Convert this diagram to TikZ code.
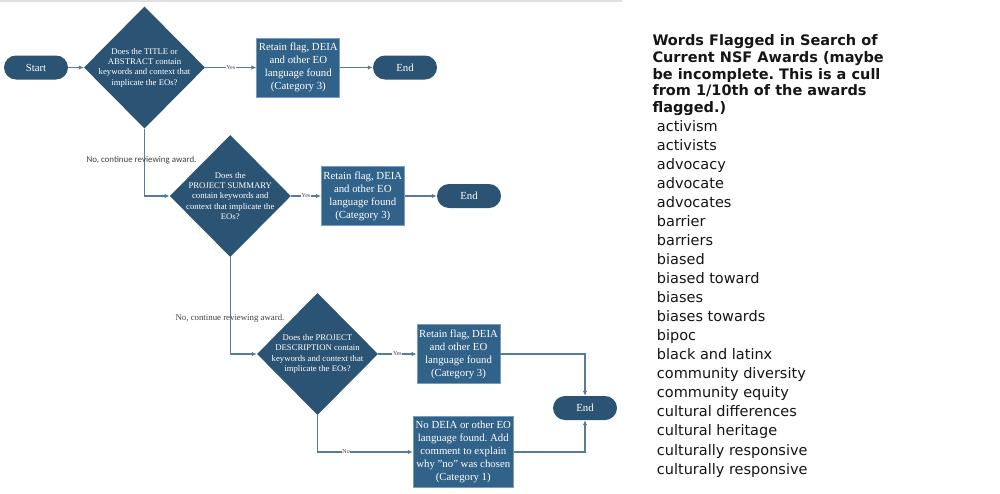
\documentclass[tikz,border=0pt]{standalone}
\usepackage{fontspec}
\setmainfont{Liberation Serif}
\newfontfamily\dejavu{DejaVu Sans}
\newfontfamily\carlito{Carlito}
\usetikzlibrary{shapes.geometric,arrows.meta}
\definecolor{dia}{HTML}{2B5374}
\definecolor{boxc}{HTML}{31628A}
\definecolor{boxb}{HTML}{7A9CBA}
\definecolor{linec}{HTML}{577B99}
\definecolor{lbl}{HTML}{404040}
\definecolor{txt}{HTML}{151515}
\frenchspacing
\begin{document}
\begin{tikzpicture}[x=1pt,y=-1pt,
 decision/.style={diamond, fill=dia, inner sep=0, minimum width=121pt, minimum height=122pt},
 dtext/.style={text=white, font=\fontsize{8.7}{10.3}\selectfont, align=center, inner sep=0},
 result/.style={fill=boxc, draw=boxb, line width=0.8pt, text=white, font=\fontsize{10.8}{13}\selectfont, align=center, inner sep=0, minimum width=83pt, minimum height=59pt},
 term/.style={fill=dia, rounded corners=12pt, text=white, font=\fontsize{10.8}{12}\selectfont, minimum width=64pt, minimum height=24pt, inner sep=0},
 flow/.style={draw=linec, line width=1.1pt, -{Latex[length=5pt,width=4.5pt]}},
 yn/.style={font=\fontsize{6}{7}\selectfont, text=lbl, fill=white, inner sep=0.6pt},
 cont/.style={text=lbl, inner sep=0},
 ttl/.style={font=\dejavu\bfseries\fontsize{14.5}{16.8}\selectfont, text=txt, inner sep=0, anchor=base west},
 itm/.style={font=\dejavu\fontsize{14.5}{19}\selectfont, text=txt, inner sep=0, anchor=base west}]
\useasboundingbox (0,0) rectangle (1000,493);
\fill[white] (0,0) rectangle (1000,493);
\fill[black!12] (0,0) rectangle (622,2);

% row 1
\node[term] (start) at (36,67.5) {Start};
\node[decision] (d1) at (144.5,67.5) {};
\node[dtext] (d1t) at (d1) {Does the TITLE or\\ABSTRACT contain\\keywords and context that\\implicate the EOs?};
\node[result] (b1) at (298.3,67.5) {Retain flag, DEIA\\and other EO\\language found\\(Category 3)};
\node[term] (e1) at (405,67.5) {End};

% row 2
\node[decision] (d2) at (230.3,196) {};
\node[dtext] (d2t) at (d2) {Does the\\PROJECT SUMMARY\\contain keywords and\\context that implicate the\\EOs?};
\node[result] (b2) at (362.8,196) {Retain flag, DEIA\\and other EO\\language found\\(Category 3)};
\node[term] (e2) at (469,196) {End};

% row 3
\node[decision] (d3) at (317.5,354) {};
\node[dtext] (d3t) at (d3) {Does the PROJECT\\DESCRIPTION contain\\keywords and context that\\implicate the EOs?};
\node[result] (b3) at (458.5,354) {Retain flag, DEIA\\and other EO\\language found\\(Category 3)};
\node[term] (e3) at (585,408) {End};
\node[result, minimum width=100pt, minimum height=71pt] (b4) at (463.3,452) {No DEIA or other EO\\language found. Add\\comment to explain\\why ''no'' was chosen\\(Category 1)};

% connectors
\draw[flow] (start) -- (d1);
\draw[flow] (d1) -- node[yn] {Yes} (b1);
\draw[flow] (b1) -- (e1);
\draw[flow] (d1.south) |- (d2.west);
\draw[flow] (d2) -- node[yn] {Yes} (b2);
\draw[flow] (b2) -- (e2);
\draw[flow] (d2.south) |- (d3.west);
\draw[flow] (d3) -- node[yn] {Yes} (b3);
\draw[flow] (b3.east) -| (e3.north);
\draw[flow] (d3.south) |- node[yn, pos=0.65] {No} (b4.west);
\draw[flow] (b4.east) -| (e3.south);

\node[cont, font=\carlito\fontsize{8.9}{10}\selectfont] (n1) at (141.5,160) {No, continue reviewing award.};
\node[cont, font=\fontsize{8.8}{10}\selectfont] (n2) at (230,318) {No, continue reviewing award.};

% right panel
\foreach \t [count=\i] in {Words Flagged in Search of,Current NSF Awards (maybe,be incomplete. This is a cull,from 1/10th of the awards,flagged.)}
  \node[ttl] (t\i) at (652.3,{45.5+16.8*(\i-1)}) {\t};
\foreach \w [count=\i] in {activism,activists,advocacy,advocate,advocates,barrier,barriers,biased,biased toward,biases,biases towards,bipoc,black and latinx,community diversity,community equity,cultural differences,cultural heritage,culturally responsive,culturally responsive}
  \node[itm] (w\i) at (656.7,{131+19.06*(\i-1)}) {\w};
\end{tikzpicture}
\end{document}
